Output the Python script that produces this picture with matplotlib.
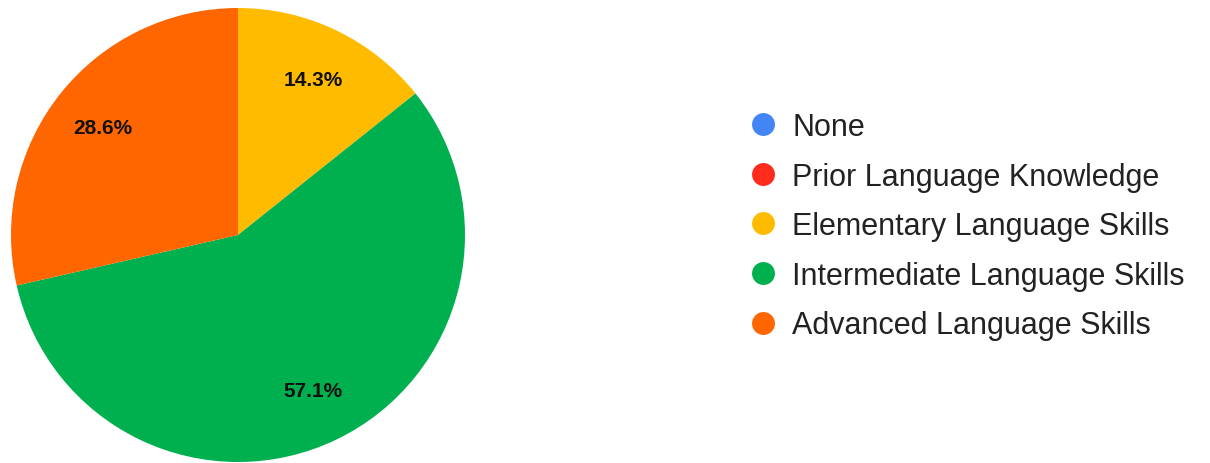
import matplotlib.pyplot as plt
from matplotlib.lines import Line2D

plt.rcParams['font.family'] = ['Liberation Sans', 'DejaVu Sans']

# response counts per skill level
levels = [
    "None",
    "Prior Language Knowledge",
    "Elementary Language Skills",
    "Intermediate Language Skills",
    "Advanced Language Skills",
]
counts = [0, 0, 1, 4, 2]
colors = ["#4285F4", "#FF2B1C", "#FFBB00", "#00AF4D", "#FF6600"]


def pct_label(p):
    return "" if p < 0.05 else "%.1f%%" % p


fig = plt.figure(figsize=(12.1, 4.64), dpi=100)
ax = fig.add_axes([11 / 1210, 1 / 464, 454 / 1210, 454 / 464])

wedges, texts, autotexts = ax.pie(
    counts,
    colors=colors,
    startangle=90,
    counterclock=False,
    autopct=pct_label,
    pctdistance=0.76,
    radius=1.0,
    wedgeprops=dict(linewidth=0),
    textprops=dict(fontsize=15, fontweight="bold", color="#111111"),
)
ax.set_xlim(-1, 1)
ax.set_ylim(-1, 1)
ax.set_aspect("equal")

handles = [
    Line2D([], [], marker="o", linestyle="none", markersize=16.5,
           markerfacecolor=c, markeredgewidth=0)
    for c in colors
]
fig.legend(
    handles, levels,
    loc="upper left",
    bbox_to_anchor=(748 / 1210, 1 - 113 / 464),
    frameon=False,
    fontsize=22,
    labelcolor="#222222",
    handlelength=1.0,
    handletextpad=0.45,
    labelspacing=0.64,
    borderpad=0,
    borderaxespad=0,
)

fig.savefig("out.png", dpi=100)
